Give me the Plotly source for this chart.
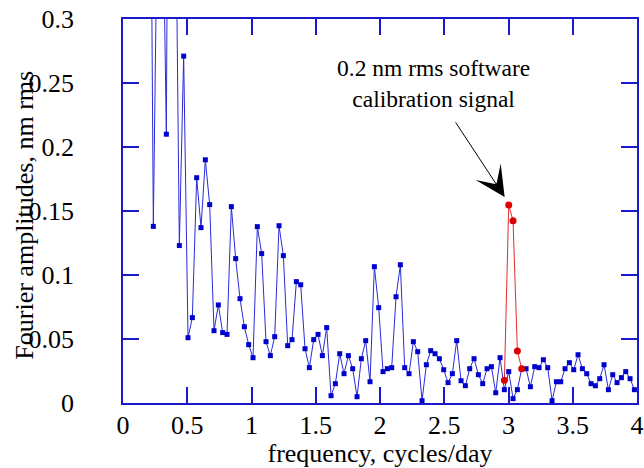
import plotly.graph_objs as go

# Fourier bins (cycles/day = bin / record length in days)
record_days = 29.65
bins = list(range(6, 119))
freq = [k / record_days for k in bins]

# Fourier amplitudes, nm rms (values above 0.3 run off the top of the plot)
amp = [
    0.63, 0.138, 0.41, 0.44, 0.210, 0.85, 0.45, 0.123, 0.271, 0.051,
    0.0667, 0.176, 0.137, 0.190, 0.155, 0.0565, 0.0766, 0.055, 0.0536, 0.1534,
    0.1128, 0.0815, 0.0596, 0.0456, 0.0354, 0.1378, 0.1167, 0.0479, 0.037, 0.0518,
    0.1385, 0.1151, 0.0448, 0.0495, 0.0948, 0.0924, 0.0424, 0.0276, 0.0495, 0.0536,
    0.037, 0.0589, 0.0057, 0.0151, 0.0385, 0.0229, 0.037, 0.0268, 0.0049, 0.0346,
    0.0487, 0.0166, 0.1065, 0.0745, 0.0245, 0.0268, 0.0276, 0.083, 0.108, 0.0276,
    0.0229, 0.0479, 0.0401, 0.0018, 0.0299, 0.0409, 0.0385, 0.0346, 0.026, 0.0159,
    0.0229, 0.0487, 0.0174, 0.0135, 0.0268, 0.0346, 0.0221, 0.0151, 0.0268, 0.0284,
    0.008, 0.0354, 0.0104, 0.0245, 0.0034, 0.0104, 0.0268, 0.0268, 0.0127, 0.0284,
    0.0276, 0.0338, 0.0276, 0.0018, 0.0166, 0.0166, 0.0268, 0.0315, 0.026, 0.0377,
    0.0268, 0.0229, 0.0151, 0.0135, 0.019, 0.0299, 0.0104, 0.0221, 0.0159, 0.0198,
    0.0245, 0.019, 0.0104,
]

# spectrum with the software calibration signal added
cal_bins = [88, 89, 90, 91, 92]
cal_freq = [k / record_days for k in cal_bins]
cal_amp = [0.0177, 0.1547, 0.1424, 0.0406, 0.0268]

# tick labels
x_ticks = [0, 0.5, 1, 1.5, 2, 2.5, 3, 3.5, 4]
x_labels = ['0', '0.5', '1', '1.5', '2', '2.5', '3', '3.5', '4']
y_ticks = [0, 0.05, 0.1, 0.15, 0.2, 0.25, 0.3]
y_labels = ['0', '0.05', '0.1', '0.15', '0.2', '0.25', '0.3']

font = dict(family='Liberation Serif, Times New Roman, serif', size=26, color='black')
note_font = dict(family='Liberation Serif, Times New Roman, serif', size=23.5, color='black')
axis_blue = '#1a1acc'

blue = go.Scatter(
    x=freq, y=amp, mode='lines+markers',
    line=dict(color='#2a2ad8', width=1),
    marker=dict(symbol='square', size=5, color='#0000cc'),
    showlegend=False,
)
red = go.Scatter(
    x=cal_freq, y=cal_amp, mode='lines+markers',
    line=dict(color='#e03030', width=1),
    marker=dict(symbol='circle', size=7, color='#dd0000'),
    showlegend=False,
)

axis_common = dict(
    showgrid=False, zeroline=False, showline=True, linecolor=axis_blue, linewidth=1.5,
    mirror='ticks', ticks='inside', tickcolor=axis_blue, tickwidth=1.5, ticklen=16,
    tickfont=font, automargin=False, ticklabeloverflow='allow',
)

layout = go.Layout(
    width=644, height=468,
    margin=dict(l=123, r=7, t=19, b=65),
    paper_bgcolor='white', plot_bgcolor='white',
    font=font,
    xaxis=dict(range=[0, 4], tickvals=x_ticks, ticktext=x_labels,
               title=dict(text='frequency, cycles/day', font=font, standoff=10),
               ticklabelstandoff=-2, **axis_common),
    yaxis=dict(range=[0, 0.3], tickvals=y_ticks, ticktext=y_labels,
               ticklabelstandoff=42, **axis_common),
    annotations=[
        dict(x=-0.191, y=0.49, xref='paper', yref='paper', showarrow=False,
             text='Fourier amplitudes, nm rms', textangle=-90, font=font,
             xanchor='center', yanchor='middle'),
        dict(x=2.418, y=0.2495, xref='x', yref='y', showarrow=False,
             text='0.2 nm rms software<br>calibration signal', font=note_font, align='center'),
        dict(x=2.97, y=0.161, xref='x', yref='y', ax=-50, ay=-76, text='',
             showarrow=True, arrowhead=3, arrowsize=5, arrowwidth=1, arrowcolor='black'),
    ],
)

fig = go.Figure(data=[blue, red], layout=layout)
# drop the default page margin so the figure fills the window exactly
fig.write_html('out.html', config={'displayModeBar': False},
               post_script="document.body.style.margin='0';")
